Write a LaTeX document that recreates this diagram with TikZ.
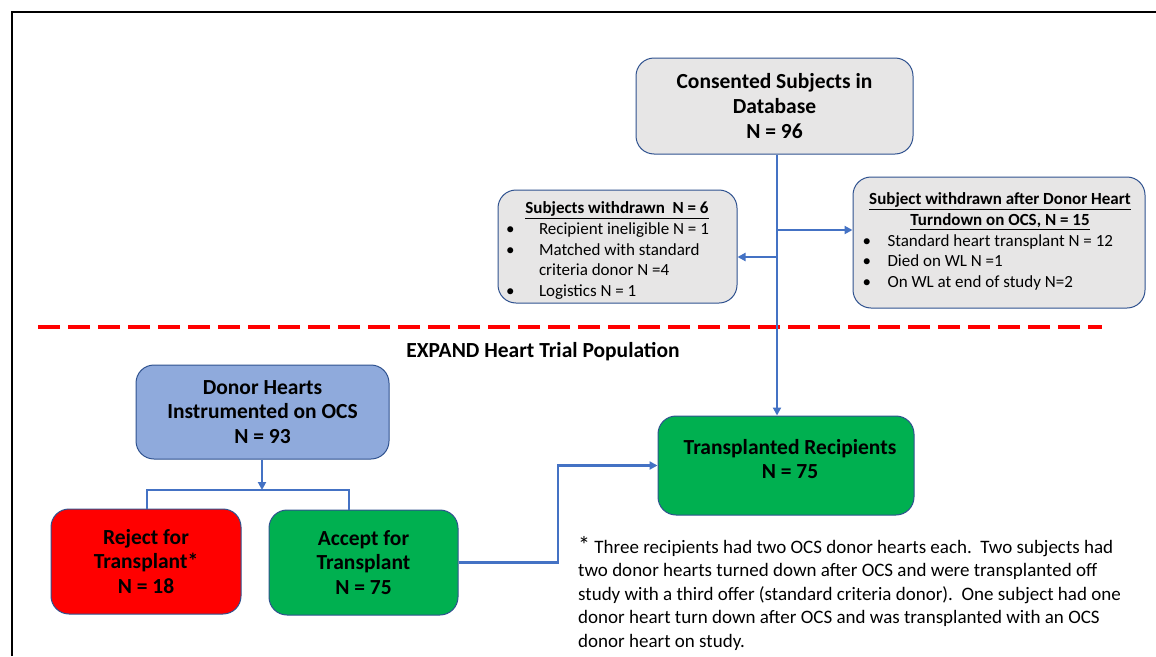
\documentclass[tikz,border=0pt]{standalone}
\usepackage{fontspec}
\setmainfont{Carlito}
\usepackage{array}
\usetikzlibrary{arrows.meta}
\definecolor{boxgray}{HTML}{E7E6E6}
\definecolor{edgeblue}{HTML}{2F528F}
\definecolor{lineblue}{HTML}{4472C4}
\definecolor{ltblue}{HTML}{8FAADC}
\definecolor{okgreen}{HTML}{00B050}
\definecolor{nored}{HTML}{FF0000}
\tikzset{
  box/.style={draw=edgeblue, line width=1pt, rounded corners=18pt, align=center, inner sep=0pt,
    font=\fontsize{21.5}{24.7}\selectfont\bfseries},
  graybox/.style={box, fill=boxgray},
  conn/.style={draw=lineblue, line width=2.2pt, -{Triangle[length=8pt,width=8pt]}},
  plain/.style={draw=lineblue, line width=2.2pt},
  listtext/.style={align=left, inner sep=0pt, font=\fontsize{17}{20.6}\selectfont},
}
\begin{document}
\begin{tikzpicture}[x=1pt,y=-1pt]
\useasboundingbox (0,0) rectangle (1156,656);
% frame
\draw[line width=2pt] (12,656) -- (12,12) -- (1156,12);
% dashed separator
\draw[nored, line width=4pt, dash pattern=on 22pt off 8pt] (38,327) -- (1102,327);
\node[font=\fontsize{21.5}{24}\selectfont\bfseries] (expand) at (543,352) {EXPAND Heart Trial Population};

% top box
\node[graybox, minimum width=277pt, minimum height=96pt] (cons) at (774.5,106)
  {Consented Subjects in\\Database\\N = 96};

% left withdrawn box
\node[graybox, minimum width=239pt, minimum height=113pt] (w1) at (617.5,246.5) {};
\node[listtext] (w1t) at (617,251) {%
\begin{tabular}{@{}p{33pt}@{}p{189pt}@{}}
\multicolumn{2}{@{}c@{}}{\bfseries\underline{Subjects withdrawn\ \ N = 6}}\\
\textbullet & Recipient ineligible N = 1\\
\textbullet & Matched with standard\\
 & criteria donor N =4\\
\textbullet & Logistics N = 1
\end{tabular}};

% right withdrawn box
\node[graybox, minimum width=292pt, minimum height=131pt] (w2) at (999,242.5) {};
\node[listtext] (w2t) at (1000,242) {%
\begin{tabular}{@{}p{25pt}@{}p{250pt}@{}}
\multicolumn{2}{@{}c@{}}{\bfseries\underline{Subject withdrawn after Donor Heart}}\\
\multicolumn{2}{@{}c@{}}{\bfseries\underline{Turndown on OCS, N = 15}}\\
\textbullet & Standard heart transplant N = 12\\
\textbullet & Died on WL N =1\\
\textbullet & On WL at end of study N=2
\end{tabular}};

% lower boxes
\node[box, fill=ltblue, minimum width=253pt, minimum height=94pt] (donor) at (262.5,412)
  {Donor Hearts\\Instrumented on OCS\\N = 93};
\node[box, fill=nored, minimum width=190pt, minimum height=105pt] (reject) at (146,561.5)
  {Reject for\\Transplant*\\N = 18};
\node[box, fill=okgreen, minimum width=189pt, minimum height=105pt] (accept) at (363.5,562.5)
  {Accept for\\Transplant\\N = 75};
\node[box, fill=okgreen, minimum width=256pt, minimum height=99pt] (trans) at (786,465.5) {};
\node[font=\fontsize{21.5}{24.7}\selectfont\bfseries, align=center, inner sep=0pt] (transt) at (790,459)
  {Transplanted Recipients\\N = 75};

% footnote
\node[anchor=north west, align=left, inner sep=0pt, font=\fontsize{19}{23.5}\selectfont] (note) at (578,536)
  {{\fontsize{24}{23.5}\selectfont *}\ Three recipients had two OCS donor hearts each.\ \ Two subjects had\\
   two donor hearts turned down after OCS and were transplanted off\\
   study with a third offer (standard criteria donor).\ \ One subject had one\\
   donor heart turn down after OCS and was transplanted with an OCS\\
   donor heart on study.};

% connectors
\coordinate (sp) at (777,0);
\coordinate (b1) at (777,230);
\coordinate (b2) at (777,257);
\draw[conn] (sp |- cons.south) -- (sp |- trans.north);
\draw[conn] (b1) -- (b1 -| w2.west);
\draw[conn] (b2) -- (b2 -| w1.east);

\coordinate (split) at (262,490);
\coordinate (sl) at (147,490);
\coordinate (sr) at (349,490);
\draw[conn] (split |- donor.south) -- (split);
\draw[plain] (sl |- reject.north) -- (sl) -- (sr) -- (sr |- accept.north);

\coordinate (elbow) at (558,0);
\draw[conn] (accept.east) -- (accept.east -| elbow) |- (trans.west);
\end{tikzpicture}
\end{document}
